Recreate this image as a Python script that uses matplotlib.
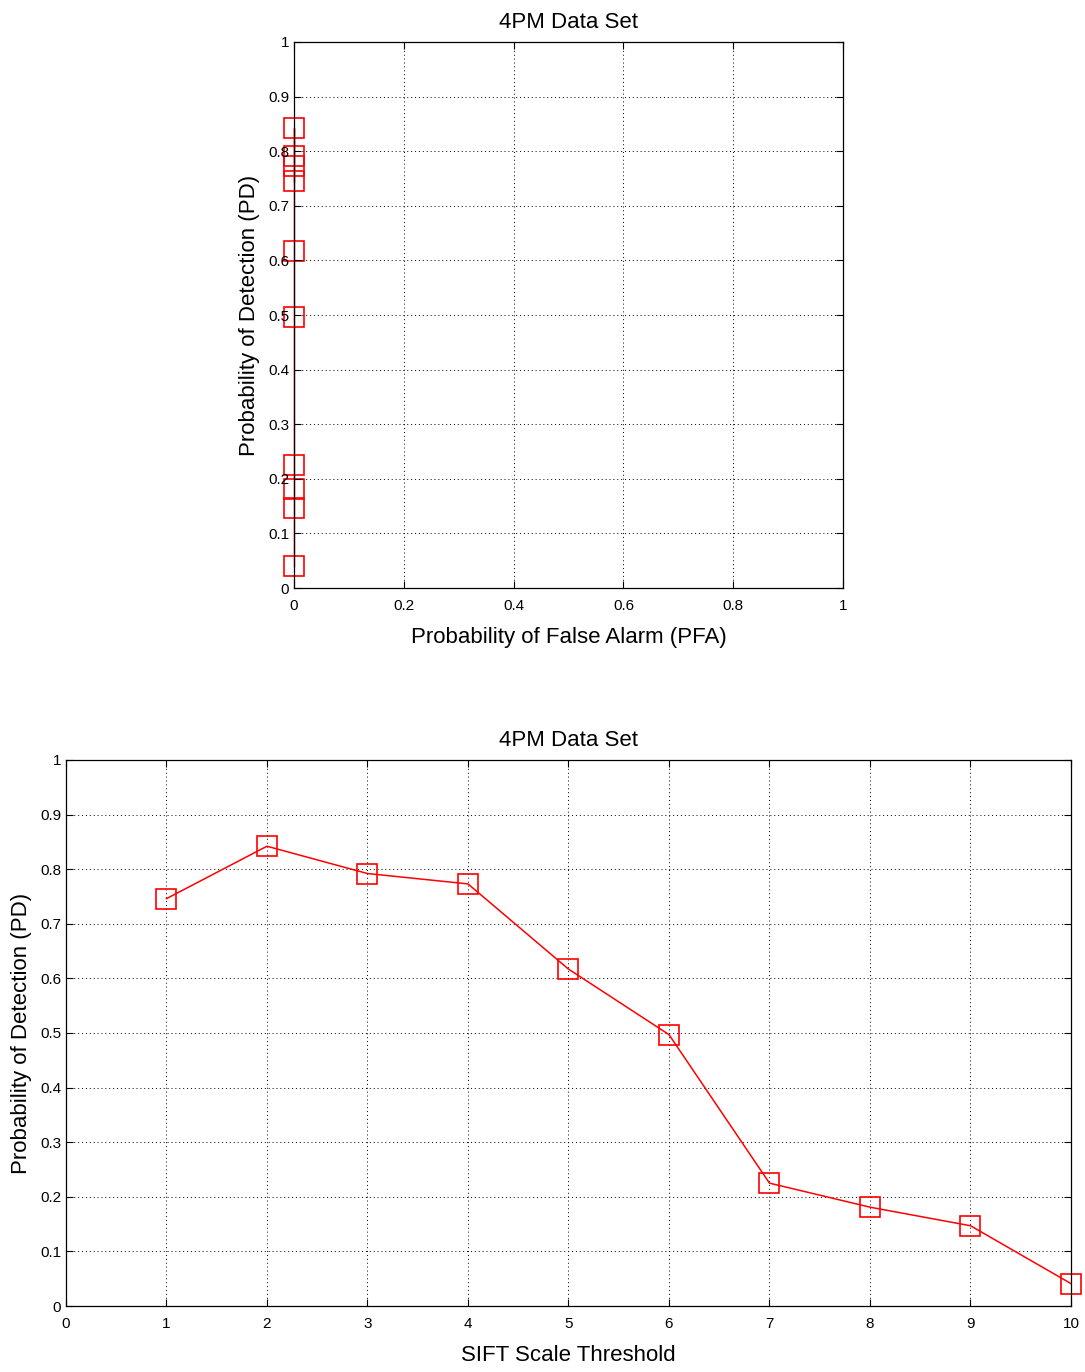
import numpy as np
import matplotlib.pyplot as plt

plt.rcParams['font.family'] = ['Liberation Sans', 'DejaVu Sans']

# data
threshold = [1, 2, 3, 4, 5, 6, 7, 8, 9, 10]
pd_vals = [0.746, 0.842, 0.792, 0.773, 0.617, 0.497, 0.225, 0.181, 0.147, 0.041]
pfa_vals = [0, 0, 0, 0, 0, 0, 0, 0, 0, 0]
ticks01 = [0, 0.2, 0.4, 0.6, 0.8, 1]
yticks = [0, 0.1, 0.2, 0.3, 0.4, 0.5, 0.6, 0.7, 0.8, 0.9, 1]
yticklabels = ['0', '0.1', '0.2', '0.3', '0.4', '0.5', '0.6', '0.7', '0.8', '0.9', '1']

fig = plt.figure(figsize=(10.85, 13.72), dpi=100)
ax1 = fig.add_axes([0.271, 0.5714, 0.506, 0.398])
ax2 = fig.add_axes([0.0608, 0.0481, 0.9263, 0.398])


def style(ax):
    ax.grid(True, color='black', linestyle=(0, (1, 3)), linewidth=0.7)
    ax.tick_params(direction='in', length=5, labelsize=11, width=0.8)
    ax.tick_params(axis='x', pad=8)
    ax.tick_params(top=True, right=True)
    for s in ax.spines.values():
        s.set_linewidth(0.9)
    ax.set_yticks(yticks)
    ax.set_yticklabels(yticklabels)
    ax.set_ylim(0, 1)


# top: ROC-style plot
ax1.plot(pfa_vals, pd_vals, color='red', linewidth=1, marker='s',
         markersize=14, markerfacecolor='none', markeredgewidth=1.2,
         clip_on=False, zorder=1)
ax1.set_xlim(0, 1)
ax1.set_xticks(ticks01)
ax1.set_xticklabels(['0', '0.2', '0.4', '0.6', '0.8', '1'])
style(ax1)
ax1.set_title('4PM Data Set', fontsize=16, pad=10)
ax1.set_xlabel('Probability of False Alarm (PFA)', fontsize=16, labelpad=10)
ax1.set_ylabel('Probability of Detection (PD)', fontsize=16, labelpad=6)

# bottom: PD vs threshold
ax2.plot(threshold, pd_vals, color='red', linewidth=1.1, marker='s',
         markersize=14, markerfacecolor='none', markeredgewidth=1.2,
         clip_on=False)
ax2.set_xlim(0, 10)
ax2.set_xticks(range(0, 11))
style(ax2)
ax2.set_title('4PM Data Set', fontsize=16, pad=10)
ax2.set_xlabel('SIFT Scale Threshold', fontsize=16, labelpad=10)
ax2.set_ylabel('Probability of Detection (PD)', fontsize=16, labelpad=6)

fig.savefig('out.png', dpi=100)
